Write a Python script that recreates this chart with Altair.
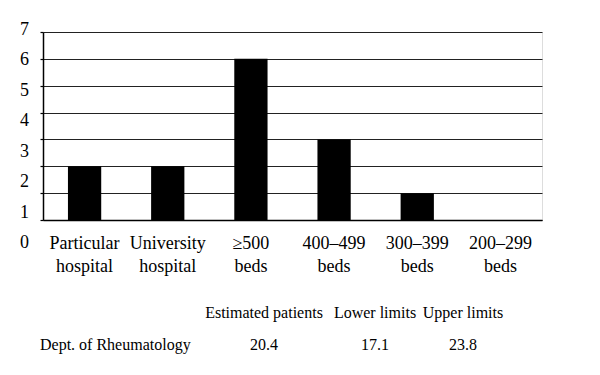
import altair as alt
import pandas as pd

categories = ["Particular hospital", "University hospital", "≥500 beds",
              "400–499 beds", "300–399 beds", "200–299 beds"]
counts = [2, 2, 6, 3, 1, 0]
y_ticks = [0, 1, 2, 3, 4, 5, 6, 7]
table_header = ["Estimated patients", "Lower limits", "Upper limits"]
row_label = "Dept. of Rheumatology"
row_values = ["20.4", "17.1", "23.8"]

FONT = "Liberation Serif"
FS_AX = 18
FS_TAB = 16

bars_df = pd.DataFrame({"category": categories, "count": counts})

bars = alt.Chart(bars_df).mark_bar(color="black").encode(
    x=alt.X("category:N", sort=categories,
            scale=alt.Scale(paddingInner=0.6, paddingOuter=0.3),
            axis=alt.Axis(title=None, labelAngle=0,
                          labelExpr="split(datum.label, ' ')",
                          ticks=False, labelPadding=14, labelFont=FONT,
                          labelFontSize=FS_AX, labelColor="black",
                          labelLineHeight=23, domainColor="black",
                          domainWidth=1.5)),
    y=alt.Y("count:Q", scale=alt.Scale(domain=[0, 7], nice=False),
            axis=alt.Axis(title=None, values=y_ticks, labels=False,
                          tickSize=3, tickColor="black", tickWidth=1.2,
                          domainColor="black", domainWidth=1.5,
                          grid=True, gridColor="#222", gridWidth=1.2)),
)

ylab_df = pd.DataFrame({"tick": y_ticks, "label": [str(t) for t in y_ticks]})
ylabels = alt.Chart(ylab_df).mark_text(
    align="right", baseline="middle", font=FONT, fontSize=FS_AX, color="black", dx=-14
).encode(
    x=alt.value(0),
    y=alt.Y("tick:Q", scale=alt.Scale(domain=[0.756, 6.934], nice=False, zero=False),
            axis=None),
    text="label:N",
)

rows = []
for i, h in enumerate(table_header):
    rows.append({"col": i + 1, "row": 0, "text": h})
for i, v in enumerate(row_values):
    rows.append({"col": i + 1, "row": 1, "text": v})
table_df = pd.DataFrame(rows)
label_df = pd.DataFrame([{"col": 0, "row": 1, "text": row_label}])

xscale_tab = alt.Scale(domain=[0, 1, 2, 3], range=[-3, 221, 332, 420],
                       nice=False, zero=False)
yscale_tab = alt.Scale(domain=[0, 1], range=[281, 313], nice=False, zero=False)

table_vals = alt.Chart(table_df).mark_text(
    align="center", baseline="middle", font=FONT, fontSize=FS_TAB, color="black"
).encode(
    x=alt.X("col:Q", scale=xscale_tab, axis=None),
    y=alt.Y("row:Q", scale=yscale_tab, axis=None),
    text="text:N",
)
table_label = alt.Chart(label_df).mark_text(
    align="left", baseline="middle", font=FONT, fontSize=FS_TAB, color="black"
).encode(
    x=alt.X("col:Q", scale=xscale_tab, axis=None),
    y=alt.Y("row:Q", scale=yscale_tab, axis=None),
    text="text:N",
)

chart = alt.layer(bars, ylabels, table_vals, table_label).resolve_scale(
    x="independent", y="independent"
).properties(
    width=499, height=188,
    autosize=alt.AutoSizeParams(type="none"),
    padding={"left": 43, "top": 32, "right": 58, "bottom": 155},
).configure_view(stroke=None).configure(
    background="white", font=FONT
).configure_axis(labelFont=FONT).configure_text(font=FONT)

chart.save("out.html", embed_options={"renderer": "svg", "actions": False})
